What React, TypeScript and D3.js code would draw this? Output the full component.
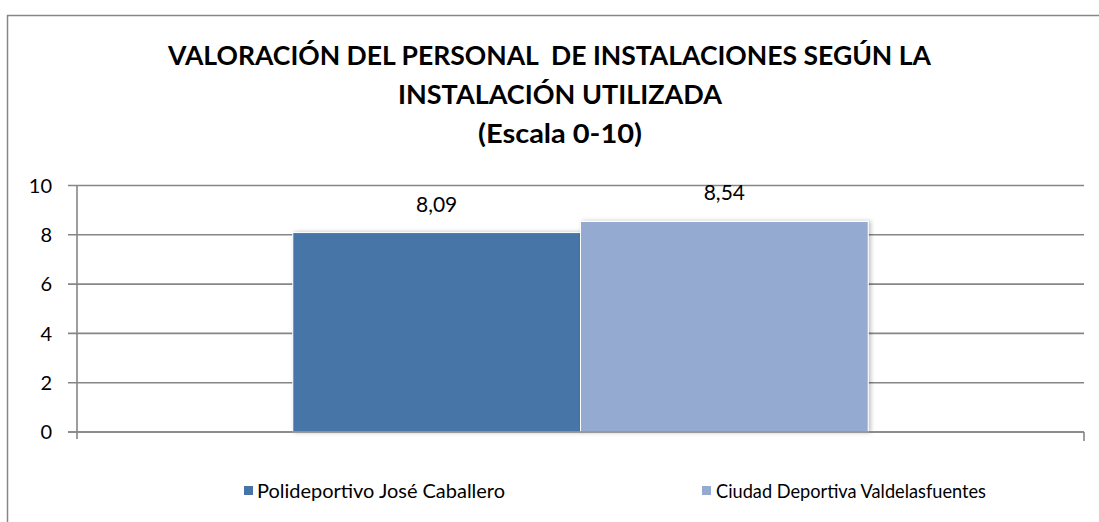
import React from "react";
import * as d3 from "d3";

const categories = ["Instalación"];
const series = ["Polideportivo José Caballero", "Ciudad Deportiva Valdelasfuentes"];
const values = [8.09, 8.54];
const valueLabels = ["8,09", "8,54"];
const colors = ["#4674A8", "#95AAD1"];
const yTicks = [0, 2, 4, 6, 8, 10];
const titleLines = [
  "VALORACIÓN DEL PERSONAL  DE INSTALACIONES SEGÚN LA",
  "INSTALACIÓN UTILIZADA",
  "(Escala 0-10)",
];

const W = 1099;
const H = 522;
const plotL = 77;
const plotR = 1084;
const plotT = 185.5;
const plotB = 432;
const font = "Lato, 'Open Sans', sans-serif";

export default function App() {
  const y = d3.scaleLinear().domain([0, 10]).range([plotB, plotT]);
  const x0 = d3.scaleBand<string>().domain(categories).range([plotL, plotR]).padding(0);
  const x1 = d3
    .scaleBand<string>()
    .domain(series)
    .range([0, x0.bandwidth()])
    .paddingInner(0)
    .paddingOuter(0.75);

  const titleX = [168, 398, 478];
  const titleW = [763, 324, 164];
  const titleY = [65, 104, 143];

  const legendItems = [
    { mx: 244, tx: 257, tw: 248 },
    { mx: 702, tx: 716, tw: 270 },
  ];

  return (
    <svg
      width={W}
      height={H}
      style={{ position: "absolute", left: 0, top: 0, background: "#fff" }}
    >
      <defs>
        <filter id="sh" x="-10%" y="-10%" width="130%" height="120%">
          <feDropShadow dx="2" dy="0" stdDeviation="2" floodColor="#000" floodOpacity="0.25" />
        </filter>
      </defs>
      <rect x={0} y={0} width={W} height={H} fill="#fff" />
      <rect x={7.5} y={15.5} width={1300} height={700} fill="none" stroke="#878787" strokeWidth={1.5} />

      {titleLines.map((t, i) => (
        <text
          key={i}
          x={titleX[i]}
          y={titleY[i]}
          textLength={titleW[i]}
          lengthAdjust="spacingAndGlyphs"
          fontFamily={font}
          fontWeight="bold"
          fontSize={26}
          fill="#000"
          style={{ whiteSpace: "pre" }}
        >
          {t}
        </text>
      ))}

      {yTicks.map((t) => (
        <g key={t}>
          <line x1={68} x2={plotR} y1={y(t)} y2={y(t)} stroke="#868686" strokeWidth={1.6} />
          <text
            x={52}
            y={y(t)}
            dy="0.36em"
            textAnchor="end"
            fontFamily={font}
            fontSize={20}
            fill="#000"
          >
            {t}
          </text>
        </g>
      ))}
      <line x1={plotL} x2={plotL} y1={plotT} y2={plotB + 7} stroke="#868686" strokeWidth={1.6} />
      <line x1={plotR} x2={plotR} y1={plotB} y2={plotB + 9} stroke="#868686" strokeWidth={1.6} />

      {categories.map((c) => (
        <g key={c}>
          {series.map((s, i) => {
            const bx = (x0(c) as number) + (x1(s) as number);
            const bw = x1.bandwidth();
            return (
              <g key={s}>
                <rect
                  x={bx}
                  y={y(values[i])}
                  width={bw}
                  height={plotB - y(values[i])}
                  fill={colors[i]}
                  stroke="#fff"
                  strokeWidth={1}
                  filter="url(#sh)"
                />
                <text
                  x={bx + bw / 2}
                  y={y(values[i]) - 21}
                  textAnchor="middle"
                  fontFamily={font}
                  fontSize={21}
                  fill="#000"
                >
                  {valueLabels[i]}
                </text>
              </g>
            );
          })}
        </g>
      ))}
      <line x1={68} x2={plotR} y1={plotB} y2={plotB} stroke="#868686" strokeWidth={1.6} />

      {series.map((s, i) => (
        <g key={s}>
          <rect x={legendItems[i].mx} y={486} width={9} height={9} fill={colors[i]} />
          <text
            x={legendItems[i].tx}
            y={498}
            textLength={legendItems[i].tw}
            lengthAdjust="spacingAndGlyphs"
            fontFamily={font}
            fontSize={20}
            fill="#000"
          >
            {s}
          </text>
        </g>
      ))}
    </svg>
  );
}
